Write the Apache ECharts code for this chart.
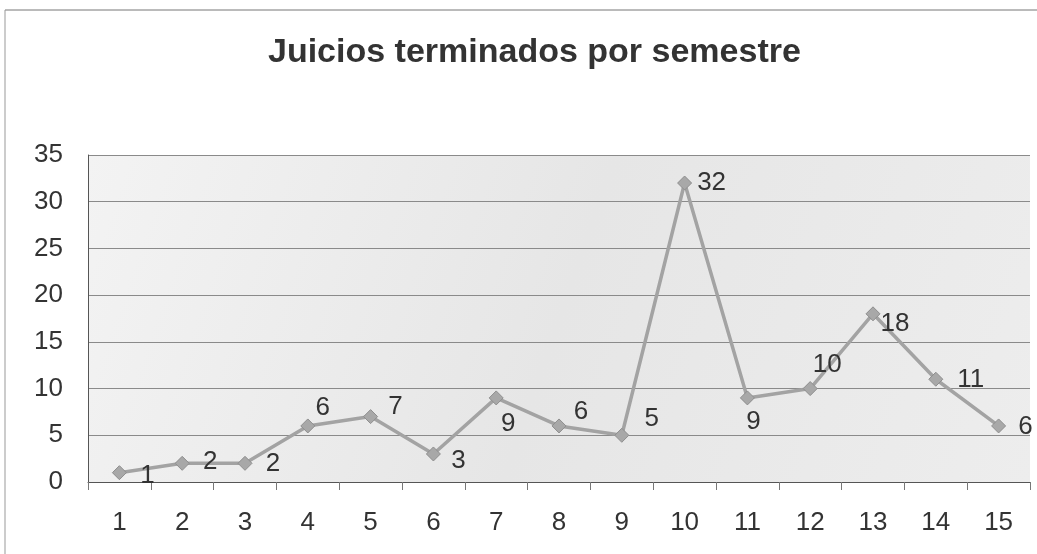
<!DOCTYPE html>
<html>
<head>
<meta charset="utf-8">
<script src="https://cdn.jsdelivr.net/npm/echarts@6/dist/echarts.min.js"></script>
<style>html,body{margin:0;padding:0;background:#fff;}#c{width:1037px;height:554px;}</style>
</head>
<body>
<div id="c"></div>
<script>
var categories = ['1','2','3','4','5','6','7','8','9','10','11','12','13','14','15'];
var values = [1,2,2,6,7,3,9,6,5,32,9,10,18,11,6];
var yTicks = [0,5,10,15,20,25,30,35];
var titleText = 'Juicios terminados por semestre';
// label offsets (style only)
var labelOffsets = [[28,3],[28,-1],[28,1],[15,-18],[25,-10],[25,7],[12,26],[22,-14],[30,-16],[27,0],[6,24],[17,-24],[22,10],[35,1],[27,1]];

var chart = echarts.init(document.getElementById('c'));
var F = 'Liberation Sans, Arial, sans-serif';
var data = values.map(function(v,i){
  return {value:v, label:{offset:labelOffsets[i]}};
});
chart.setOption({
  animation:false,
  backgroundColor:'#fff',
  title:{text:titleText,left:263,top:31,textStyle:{fontFamily:F,fontSize:34,fontWeight:'bold',color:'#333'}},
  grid:{left:88,right:7,top:155,bottom:72,show:true,borderWidth:0,
    backgroundColor:new echarts.graphic.LinearGradient(0,0,1,1,[{offset:0,color:'#f3f3f3'},{offset:0.5,color:'#e6e6e6'},{offset:1,color:'#ededed'}])},
  graphic:[
    {type:'line',shape:{x1:5,y1:10,x2:1037,y2:10},style:{stroke:'#777',lineWidth:1}},
    {type:'line',shape:{x1:5,y1:10,x2:5,y2:554},style:{stroke:'#999',lineWidth:1}}
  ],
  xAxis:{type:'category',data:categories,boundaryGap:true,
    axisLine:{show:true,lineStyle:{color:'#555',width:1}},
    axisTick:{show:true,length:8,inside:false,lineStyle:{color:'#777'}},
    axisLabel:{fontFamily:F,fontSize:26,color:'#333',margin:28},
    splitLine:{show:false}},
  yAxis:{type:'value',min:0,max:35,interval:5,
    axisLine:{show:true,lineStyle:{color:'#555',width:1}},
    axisTick:{show:false},
    axisLabel:{fontFamily:F,fontSize:26,color:'#333',margin:25},
    splitLine:{show:true,lineStyle:{color:'#8a8a8a',width:1}}},
  series:[{type:'line',data:data,symbol:'diamond',symbolSize:14,
    lineStyle:{color:'#a3a3a3',width:3.5},
    itemStyle:{color:'#a8a8a8',borderColor:'#8e8e8e',borderWidth:1},
    label:{show:true,position:'inside',fontFamily:F,fontSize:26,color:'#333'}}]
});
</script>
</body>
</html>
